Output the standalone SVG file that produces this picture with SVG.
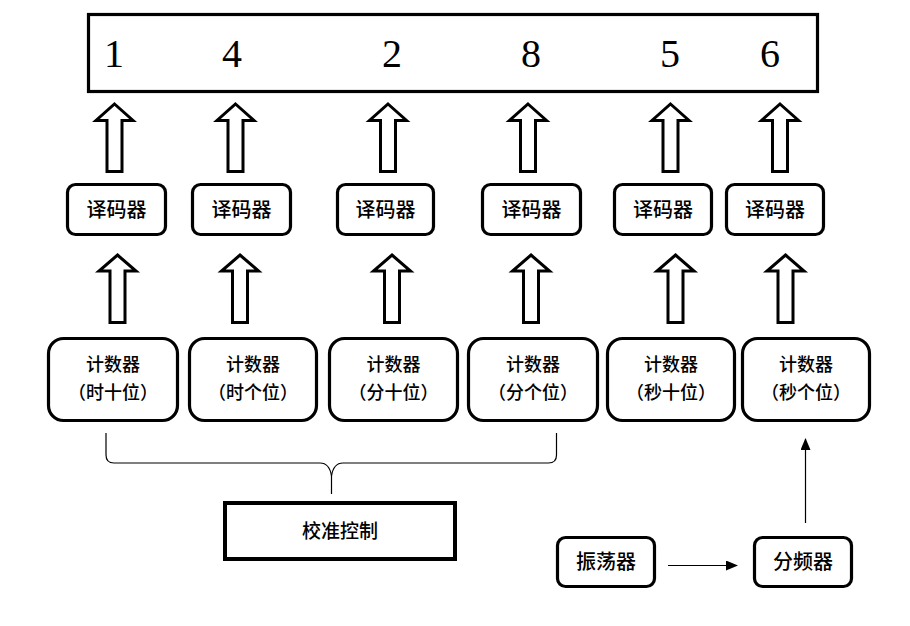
<svg xmlns="http://www.w3.org/2000/svg" width="910" height="626" viewBox="0 0 910 626">
<style>
.box{fill:#fff;stroke:#000;stroke-width:3.2}
.blk{fill:#fff;stroke:#000;stroke-width:3;stroke-linejoin:miter}
.thin{fill:none;stroke:#000;stroke-width:1.2}
.cn{font-family:"Noto Sans CJK SC","Noto Sans",sans-serif;font-weight:500;fill:#000;text-anchor:middle}
.dig{font-family:"Liberation Serif",serif;font-size:40px;fill:#000;text-anchor:middle}
.dec{font-size:20px}
.cnt{font-size:18px}
</style>
<defs>
<marker id="ah" markerWidth="12" markerHeight="10" refX="11" refY="5" orient="auto" markerUnits="userSpaceOnUse">
<path d="M0,0 L12,5 L0,10 Z" fill="#000"/>
</marker>
</defs>
<g id="display">
<rect class="box" x="88.5" y="14.5" width="729" height="77"/>
<text class="dig" x="114" y="67">1</text>
<text class="dig" x="232" y="67">4</text>
<text class="dig" x="392" y="67">2</text>
<text class="dig" x="531" y="67">8</text>
<text class="dig" x="670" y="67">5</text>
<text class="dig" x="770" y="67">6</text>
</g>
<g id="decoders">
<g id="dec1"><rect class="box" x="67.5" y="184.5" width="98" height="50" rx="8"/><text class="cn dec" x="116.5" y="217">译码器</text></g>
<g id="dec2"><rect class="box" x="192.5" y="184.5" width="98" height="50" rx="8"/><text class="cn dec" x="241.5" y="217">译码器</text></g>
<g id="dec3"><rect class="box" x="337.5" y="184.5" width="96" height="50" rx="8"/><text class="cn dec" x="385.5" y="217">译码器</text></g>
<g id="dec4"><rect class="box" x="482.5" y="184.5" width="98" height="50" rx="8"/><text class="cn dec" x="531.5" y="217">译码器</text></g>
<g id="dec5"><rect class="box" x="614.5" y="184.5" width="97" height="50" rx="8"/><text class="cn dec" x="663" y="217">译码器</text></g>
<g id="dec6"><rect class="box" x="726.5" y="184.5" width="97" height="50" rx="8"/><text class="cn dec" x="775" y="217">译码器</text></g>
</g>
<g id="counters">
<g id="cnt1"><rect class="box" x="48.5" y="338.5" width="129" height="82" rx="15"/><text class="cn cnt" x="113" y="371">计数器</text><text class="cn cnt" x="113" y="399">（时十位）</text></g>
<g id="cnt2"><rect class="box" x="189.5" y="338.5" width="127" height="82" rx="15"/><text class="cn cnt" x="253" y="371">计数器</text><text class="cn cnt" x="253" y="399">（时个位）</text></g>
<g id="cnt3"><rect class="box" x="329.5" y="338.5" width="128" height="82" rx="15"/><text class="cn cnt" x="393.5" y="371">计数器</text><text class="cn cnt" x="393.5" y="399">（分十位）</text></g>
<g id="cnt4"><rect class="box" x="468.5" y="338.5" width="129" height="82" rx="15"/><text class="cn cnt" x="533" y="371">计数器</text><text class="cn cnt" x="533" y="399">（分个位）</text></g>
<g id="cnt5"><rect class="box" x="607.5" y="338.5" width="127" height="82" rx="15"/><text class="cn cnt" x="671" y="371">计数器</text><text class="cn cnt" x="671" y="399">（秒十位）</text></g>
<g id="cnt6"><rect class="box" x="742.5" y="338.5" width="127" height="82" rx="15"/><text class="cn cnt" x="806" y="371">计数器</text><text class="cn cnt" x="806" y="399">（秒个位）</text></g>
</g>
<g id="calib"><rect x="225" y="503" width="230" height="56" fill="#fff" stroke="#000" stroke-width="4"/><text class="cn" font-size="19" x="340" y="538">校准控制</text></g>
<g id="osc"><rect class="box" x="557.5" y="537.5" width="97" height="49" rx="8"/><text class="cn" font-size="20" x="606" y="569">振荡器</text></g>
<g id="div"><rect class="box" x="754.5" y="537.5" width="97" height="49" rx="8"/><text class="cn" font-size="20" x="803" y="569">分频器</text></g>
<g id="connectors">
<path class="blk" d="M114.5,104 L133,120.5 L122,120.5 L122,171.5 L107,171.5 L107,120.5 L96,120.5 Z"/>
<path class="blk" d="M235.5,104 L254,120.5 L243,120.5 L243,171.5 L228,171.5 L228,120.5 L217,120.5 Z"/>
<path class="blk" d="M388,104 L406.5,120.5 L395.5,120.5 L395.5,171.5 L380.5,171.5 L380.5,120.5 L369.5,120.5 Z"/>
<path class="blk" d="M528,104 L546.5,120.5 L535.5,120.5 L535.5,171.5 L520.5,171.5 L520.5,120.5 L509.5,120.5 Z"/>
<path class="blk" d="M670.5,104 L689,120.5 L678,120.5 L678,171.5 L663,171.5 L663,120.5 L652,120.5 Z"/>
<path class="blk" d="M780,104 L798.5,120.5 L787.5,120.5 L787.5,171.5 L772.5,171.5 L772.5,120.5 L761.5,120.5 Z"/>
<path class="blk" d="M117.5,255 L136,271 L125,271 L125,322.5 L110,322.5 L110,271 L99,271 Z"/>
<path class="blk" d="M240,255 L258.5,271 L247.5,271 L247.5,322.5 L232.5,322.5 L232.5,271 L221.5,271 Z"/>
<path class="blk" d="M392,255 L410.5,271 L399.5,271 L399.5,322.5 L384.5,322.5 L384.5,271 L373.5,271 Z"/>
<path class="blk" d="M531,255 L549.5,271 L538.5,271 L538.5,322.5 L523.5,322.5 L523.5,271 L512.5,271 Z"/>
<path class="blk" d="M675.5,255 L694,271 L683,271 L683,322.5 L668,322.5 L668,271 L657,271 Z"/>
<path class="blk" d="M785.5,255 L804,271 L793,271 L793,322.5 L778,322.5 L778,271 L767,271 Z"/>
<path class="thin" d="M106,433 V455 Q106,463 114,463 H320 Q329.5,463 331.5,476 V494"/>
<path class="thin" d="M556.5,433 V455 Q556.5,463 548.5,463 H343 Q333.5,463 331.5,476"/>
<line class="thin" x1="668" y1="565.5" x2="737" y2="565.5" marker-end="url(#ah)"/>
<line class="thin" x1="805.5" y1="523" x2="805.5" y2="439" marker-end="url(#ah)"/>
</g>
</svg>
